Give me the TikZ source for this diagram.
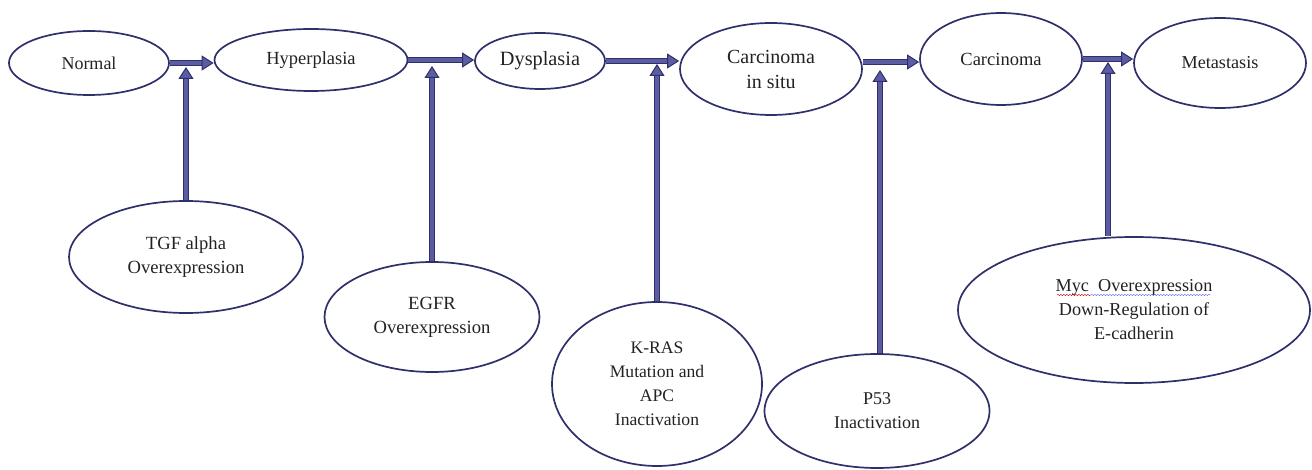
\documentclass[tikz,border=0pt]{standalone}
\usepackage{fontspec}
\setmainfont{Liberation Serif}
\usetikzlibrary{shapes.geometric,arrows.meta,decorations.pathmorphing}
\definecolor{edark}{HTML}{2E2F6B}
\definecolor{afill}{HTML}{5C5CA3}
\definecolor{txt}{HTML}{222222}
\begin{document}
\begin{tikzpicture}[x=1pt,y=-1pt,
  stage/.style={ellipse,draw=edark,line width=1.7pt,inner sep=0pt,text=txt,font=\fontsize{18.5}{24}\selectfont,align=center},
  low/.style={stage,font=\fontsize{18.6}{24}\selectfont},
  flow/.style={draw=edark,line width=1pt,double=afill,double distance=3.6pt,
    -{Triangle[length=12pt,width=15pt,fill=afill,line width=1pt]}},
  wavy/.style={line width=0.4pt,decorate,decoration={snake,amplitude=0.7pt,segment length=3pt}}
]
\useasboundingbox (0,0) rectangle (1312,470);
% top row
\node[stage,minimum width=160pt,minimum height=64pt,font=\fontsize{18}{24}\selectfont] (normal) at (89,63) {Normal};
\node[stage,minimum width=193pt,minimum height=62pt] (hyper) at (311,60) {Hyperplasia};
\node[stage,minimum width=130pt,minimum height=56pt,font=\fontsize{20.3}{24}\selectfont] (dys) at (540,61) {Dysplasia};
\node[stage,minimum width=182pt,minimum height=92pt,font=\fontsize{20}{25}\selectfont] (cis) at (771,69) {Carcinoma\\in situ};
\node[stage,minimum width=162pt,minimum height=92pt] (carc) at (1001,59) {Carcinoma};
\node[stage,minimum width=172pt,minimum height=90pt,font=\fontsize{18.2}{24}\selectfont] (meta) at (1220,63) {Metastasis};
% bottom row
\node[low,minimum width=234pt,minimum height=112pt] (tgf) at (186,257) {TGF alpha\\Overexpression};
\node[low,minimum width=215pt,minimum height=110pt] (egfr) at (432,317) {EGFR\\Overexpression};
\node[low,minimum width=210pt,minimum height=164pt,font=\fontsize{17.6}{24}\selectfont] (kras) at (657,384) {K-RAS\\Mutation and\\APC\\Inactivation};
\node[low,minimum width=225pt,minimum height=114pt,font=\fontsize{18}{24}\selectfont] (p53) at (877,411) {P53\\Inactivation};
\node[low,minimum width=352pt,minimum height=146pt,font=\fontsize{18.2}{24}\selectfont] (myc) at (1134,310) {Myc\ \ Overexpression\\Down-Regulation of\\E-cadherin};
% horizontal arrows
\draw[flow] (normal.east) -- (normal.east -| hyper.west);
\draw[flow] (hyper.east) -- (hyper.east -| dys.west);
\draw[flow] (dys.east) -- (dys.east -| cis.west);
\draw[flow] ([yshift=7pt]cis.east) -- ([yshift=7pt]cis.east -| carc.west);
\draw[flow] (carc.east) -- (carc.east -| meta.west);
% vertical arrows
\coordinate (j1) at (186,67);
\coordinate (j2) at (432,66);
\coordinate (j3) at (657,64);
\coordinate (j4) at (880,70);
\coordinate (j5) at (1108,62);
\draw[flow] (tgf.north) -- (j1);
\draw[flow] (egfr.north) -- (j2);
\draw[flow] (kras.north) -- (j3);
\draw[flow] (p53.north -| j4) -- (j4);
\draw[flow] (myc.north -| j5) -- (j5);
% spell-check underlines
\draw[wavy,red!80!black] (1057,295) -- (1091,295);
\draw[wavy,blue!60] (1091,295) -- (1211,295);
\end{tikzpicture}
\end{document}
